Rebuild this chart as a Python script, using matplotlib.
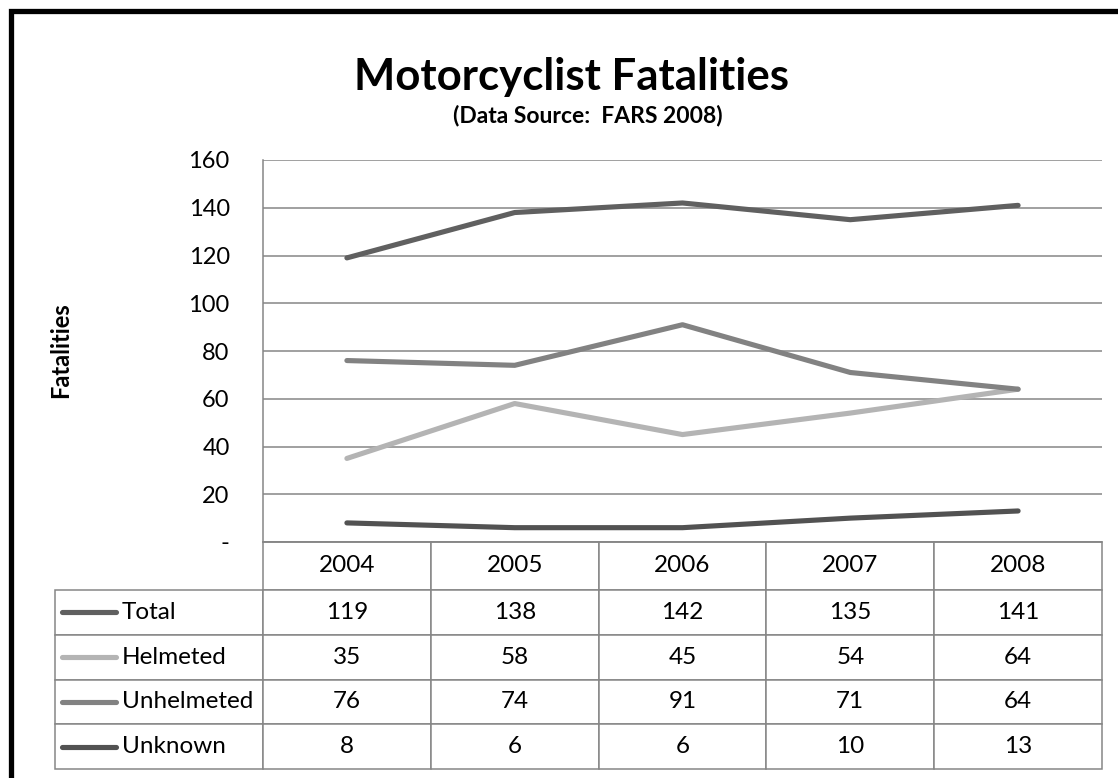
import numpy as np
import matplotlib
matplotlib.use("Agg")
import matplotlib.pyplot as plt
from matplotlib.patches import Rectangle
from matplotlib.ticker import FuncFormatter

plt.rcParams['font.family'] = ['Lato', 'DejaVu Sans']

# data
years = ['2004', '2005', '2006', '2007', '2008']
series = ['Total', 'Helmeted', 'Unhelmeted', 'Unknown']
total = [119, 138, 142, 135, 141]
helmeted = [35, 58, 45, 54, 64]
unhelmeted = [76, 74, 91, 71, 64]
unknown = [8, 6, 6, 10, 13]
colors = ['#606060', '#b4b4b4', '#828282', '#525252']

W, H = 1118, 778
grid_col = '#868686'

fig = plt.figure(figsize=(W / 100, H / 100), dpi=100)

# outer frame (only top & left visible in the reference)
fig.add_artist(Rectangle((10.5 / W, -0.1), 1.2, 1.1 - 11.5 / H, transform=fig.transFigure,
                         fill=False, edgecolor='black', lw=3.8))

# plot area
px0, px1, py0, py1 = 263, 1102, 160, 542
ax = fig.add_axes([px0 / W, 1 - py1 / H, (px1 - px0) / W, (py1 - py0) / H])
x = np.arange(len(years))
for vals, c in zip([total, helmeted, unhelmeted, unknown], colors):
    ax.plot(x, vals, color=c, lw=3.7, solid_capstyle='round', solid_joinstyle='round', zorder=3)

ax.set_xlim(-0.5, len(years) - 0.5)
ax.set_ylim(0, 160)
ax.set_yticks(np.arange(0, 161, 20))
ax.yaxis.set_major_formatter(FuncFormatter(lambda v, p: '-' if v == 0 else '%d' % v))
ax.set_xticks([])
ax.tick_params(axis='y', length=0, pad=24, labelsize=17)
ax.grid(axis='y', color=grid_col, lw=1.1)
for s in ['top', 'right']:
    ax.spines[s].set_visible(False)
for s in ['left', 'bottom']:
    ax.spines[s].set_color(grid_col)
    ax.spines[s].set_linewidth(1.1)

# data table under the plot
tx0, ty1 = 55, 769
head_h = 48
lab_w = px0 - tx0
row_h = (ty1 - py1 - head_h) / len(series)
cell_text = [[''] + years]
for name, vals in zip(series, [total, helmeted, unhelmeted, unknown]):
    cell_text.append([name] + [str(v) for v in vals])
col_w = [lab_w] + [(px1 - px0) / len(years)] * len(years)
tab = ax.table(cellText=cell_text, colWidths=[w / (px1 - px0) for w in col_w],
               cellLoc='center',
               bbox=[-lab_w / (px1 - px0), -(ty1 - py1) / (py1 - py0),
                     (px1 - tx0) / (px1 - px0), (ty1 - py1) / (py1 - py0)])
tab.auto_set_font_size(False)
tab.set_fontsize(17.5)
for (r, c), cell in tab.get_celld().items():
    cell.set_edgecolor(grid_col)
    cell.set_linewidth(1.1)
    cell.set_height((head_h if r == 0 else row_h) / (py1 - py0))
    if r == 0 and c == 0:
        cell.visible_edges = 'open'
    if c == 0 and r > 0:
        cell.PAD = 0.32
        cell.get_text().set_ha('left')
        cell._loc = 'left'

# legend keys in the label column
for i, c in enumerate(colors):
    yc = py1 + head_h + row_h * (i + 0.5)
    yy = -(yc - py1) / (py1 - py0)
    ax.plot([(62 - px0) / (px1 - px0), (116 - px0) / (px1 - px0)], [yy, yy],
            transform=ax.transAxes, clip_on=False, color=c, lw=3.7, solid_capstyle='round')

# titles
fig.text(571 / W, 1 - 77 / H, 'Motorcyclist Fatalities', ha='center', va='center',
         fontsize=31.5, fontweight='bold')
fig.text(588 / W, 1 - 115 / H, '(Data Source:  FARS 2008)', ha='center', va='center',
         fontsize=16.5, fontweight='bold')
fig.text(61 / W, 1 - 350 / H, 'Fatalities', rotation=90, ha='center', va='center',
         fontsize=17, fontweight='bold')

fig.savefig('out.png', dpi=100)
